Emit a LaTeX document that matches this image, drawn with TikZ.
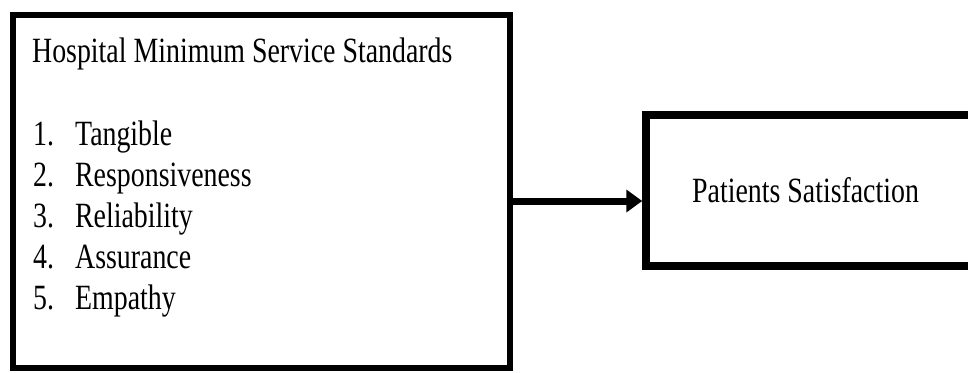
\documentclass[tikz,border=0pt]{standalone}
\usepackage{fontspec}
\setmainfont{Liberation Serif}
\usetikzlibrary{arrows.meta}
\tikzset{
  box/.style={draw, line width=6.5pt, minimum width=#1},
  txt/.style={inner sep=0pt, anchor=base west, xscale=0.785, transform shape,
    font=\fontsize{35.5}{41}\selectfont},
}
\begin{document}
\begin{tikzpicture}[x=1pt,y=-1pt]
    \clip (0,0) rectangle (968,372);
    \node[box=497pt, minimum height=353pt] (std) at (261.5,191.5) {};
    \node[box=329pt, minimum height=151pt, line width=7.5pt] (sat) at (810.5,190.5) {};
    \node[txt] (title) at (32,62) {Hospital Minimum Service Standards};
    \node[txt] (i1) at (33,145) {\makebox[53.5pt][l]{1.}Tangible};
    \node[txt] (i2) at (33,186) {\makebox[53.5pt][l]{2.}Responsiveness};
    \node[txt] (i3) at (33,227) {\makebox[53.5pt][l]{3.}Reliability};
    \node[txt] (i4) at (33,268) {\makebox[53.5pt][l]{4.}Assurance};
    \node[txt] (i5) at (33,309) {\makebox[53.5pt][l]{5.}Empathy};
    \node[txt] (ps) at (692,202) {Patients Satisfaction};
    \coordinate (a) at (0,201);
    \draw[line width=7pt, -{Triangle[length=16pt,width=22pt]}]
      (std.east |- a) -- (sat.west |- a);
\end{tikzpicture}
\end{document}
